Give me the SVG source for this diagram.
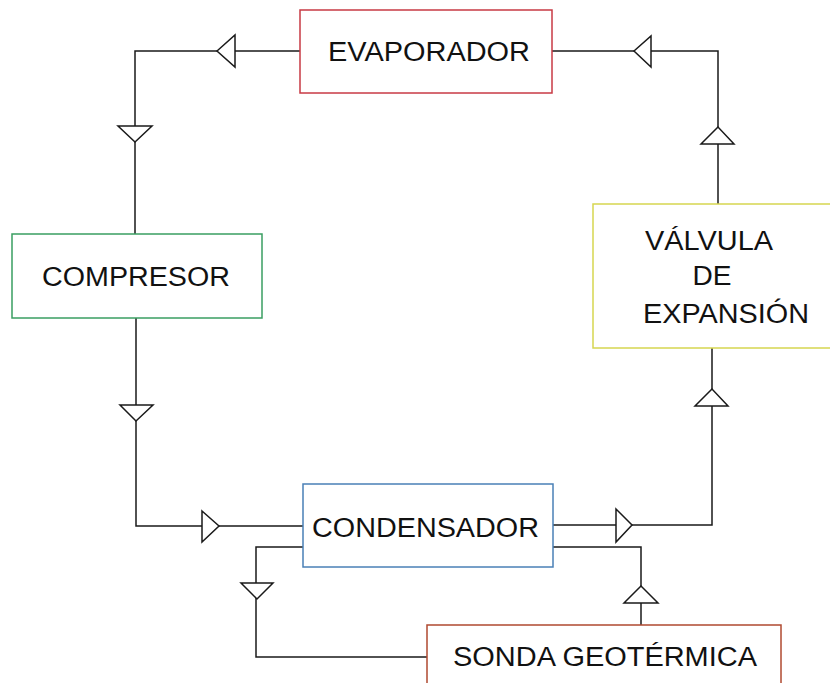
<svg xmlns="http://www.w3.org/2000/svg" width="830" height="683" viewBox="0 0 830 683">
<style>
.box{fill:#fff;stroke-width:1.5}
.lbl{font-family:"Liberation Sans",Arial,sans-serif;font-size:27px;fill:#111;text-anchor:middle}
.ln{fill:none;stroke:#1a1a1a;stroke-width:1.5}
.tri{fill:#fff;stroke:#1a1a1a;stroke-width:1.5;stroke-linejoin:miter}
</style>
<rect width="830" height="683" fill="#fff"/>
<g id="connectors">
<polyline class="ln" points="300,51 135,51 135,234"/>
<polygon class="tri" points="217,51 235,35 235,67"/>
<polygon class="tri" points="118,126 152,126 135,142"/>
<polyline class="ln" points="552,51 718,51 718,204"/>
<polygon class="tri" points="634,51 651,36 651,67"/>
<polygon class="tri" points="718,127 701,144 734,144"/>
<polyline class="ln" points="136,318 136,526 303,526"/>
<polygon class="tri" points="120,405 153,405 136,421"/>
<polygon class="tri" points="202,511 219,526 202,542"/>
<polyline class="ln" points="553,525 712,525 712,348"/>
<polygon class="tri" points="616,509 632,525 616,542"/>
<polygon class="tri" points="712,389 695,406 728,406"/>
<polyline class="ln" points="303,547 256,547 256,657 427,657"/>
<polygon class="tri" points="241,583 273,583 257,599"/>
<polyline class="ln" points="553,547 641,547 641,625"/>
<polygon class="tri" points="641,586 624,603 658,603"/>
</g>
<g id="evaporador">
<rect class="box" x="300" y="10" width="252" height="83" stroke="#c83a44"/>
<text class="lbl" x="429" y="61" textLength="202" lengthAdjust="spacingAndGlyphs">EVAPORADOR</text>
</g>
<g id="compresor">
<rect class="box" x="12" y="234" width="250" height="84" stroke="#3a9e62"/>
<text class="lbl" x="136" y="286" textLength="188" lengthAdjust="spacingAndGlyphs">COMPRESOR</text>
</g>
<g id="valvula">
<rect class="box" x="593" y="204" width="238" height="144" stroke="#d6d650"/>
<text class="lbl" x="709" y="250" textLength="128" lengthAdjust="spacingAndGlyphs">VÁLVULA</text>
<text class="lbl" x="712" y="285" textLength="39" lengthAdjust="spacingAndGlyphs">DE</text>
<text class="lbl" x="726" y="323" textLength="166" lengthAdjust="spacingAndGlyphs">EXPANSIÓN</text>
</g>
<g id="condensador">
<rect class="box" x="303" y="484" width="250" height="83" stroke="#4a80b6"/>
<text class="lbl" x="425.5" y="537" textLength="227" lengthAdjust="spacingAndGlyphs">CONDENSADOR</text>
</g>
<g id="sonda">
<rect class="box" x="427" y="625" width="354" height="70" stroke="#b04a30"/>
<text class="lbl" x="605" y="666" textLength="304" lengthAdjust="spacingAndGlyphs">SONDA GEOTÉRMICA</text>
</g>
</svg>
